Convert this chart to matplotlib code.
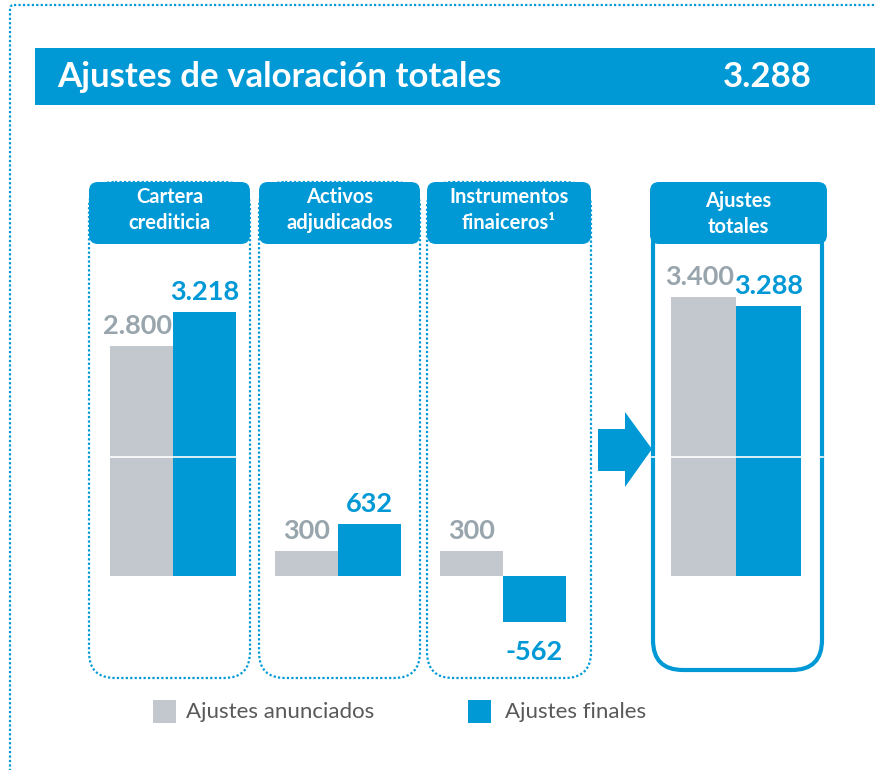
"""
Ajustes de valoración: anunciados vs finales, por tipo de activo.
"""
import matplotlib
matplotlib.use("Agg")
import matplotlib.pyplot as plt
from matplotlib.patches import FancyBboxPatch, Rectangle, Polygon

plt.rcParams['font.family'] = ['Lato', 'DejaVu Sans']

# data
panels = ['Cartera\ncrediticia', 'Activos\nadjudicados', 'Instrumentos\nfinaiceros¹', 'Ajustes\ntotales']
anunciados = [2800, 300, 300, 3400]
finales = [3218, 632, -562, 3288]
series_names = ['Ajustes anunciados', 'Ajustes finales']
title = 'Ajustes de valoración totales'

BLUE = '#0099D6'
GRAY_BAR = '#C3C8CF'
GRAY_TXT = '#98A5AD'
LEG_TXT = '#595959'

W, H = 875, 770
SCALE = 0.0821      # px per unit
BASE_Y = 576        # baseline, px from top
BREAK_Y = 457       # white break line, px from top


def fmt(v):
    return f"{v:,}".replace(',', '.')


def px_axes(fig, x0, x1, y0, y1):
    return fig.add_axes([x0 / W, 1 - y1 / H, (x1 - x0) / W, (y1 - y0) / H])


fig = plt.figure(figsize=(W / 100, H / 100), dpi=100)
bg = fig.add_axes([0, 0, 1, 1])
bg.set_xlim(0, W)
bg.set_ylim(H, 0)
bg.axis('off')

# outer dotted frame
bg.add_patch(FancyBboxPatch((10, 5), 900, 800, boxstyle="round,pad=0,rounding_size=4",
                            fill=False, ec=BLUE, lw=1.6, ls=(0, (1, 1))))

# title bar
bg.add_patch(Rectangle((35, 48), 845, 57, color=BLUE, lw=0))
bg.text(57, 77, title, color='white', fontsize=25, fontweight='bold', va='center', ha='left')
bg.text(812, 77, fmt(finales[-1]), color='white', fontsize=25, fontweight='bold',
        va='center', ha='right')

# panel frames (px)
frames = [(89, 250), (259, 420), (427, 591), (653, 822)]
headers = [(89, 250), (259, 420), (427, 591), (650, 827)]
bar_spans = [(110, 236), (275, 401), (440, 566), (671, 801)]

for i, ((fx0, fx1), (hx0, hx1)) in enumerate(zip(frames, headers)):
    if i < 3:
        bg.add_patch(FancyBboxPatch((fx0, 182), fx1 - fx0, 678 - 182,
                                    boxstyle="round,pad=0,rounding_size=26",
                                    fill=False, ec=BLUE, lw=1.6, ls=(0, (1, 1))))
        ty = 210
    else:
        bg.add_patch(FancyBboxPatch((fx0, 215), fx1 - fx0, 670 - 215,
                                    boxstyle="round,pad=0,rounding_size=30",
                                    fill=False, ec=BLUE, lw=3))
        ty = 214
    bg.add_patch(FancyBboxPatch((hx0, 182), hx1 - hx0, 62,
                                boxstyle="round,pad=0,rounding_size=9",
                                fc=BLUE, ec='none'))
    bg.text((hx0 + hx1) / 2, ty, panels[i], color='white', fontsize=14.5,
            fontweight='bold', ha='center', va='center', linespacing=1.32)

# arrow between panels
bg.add_patch(Polygon([(598, 429), (625, 429), (625, 412), (652, 449),
                      (625, 487), (625, 471), (598, 471)], closed=True,
                     fc=BLUE, ec='none'))

# bars
top_px, bot_px = 170, 700
for i, (bx0, bx1) in enumerate(bar_spans):
    ax = px_axes(fig, bx0, bx1, top_px, bot_px)
    ax.set_xlim(-0.5, 1.5)
    ax.set_ylim(-(bot_px - BASE_Y) / SCALE, (BASE_Y - top_px) / SCALE)
    ax.axis('off')
    ax.patch.set_alpha(0)
    vals = [anunciados[i], finales[i]]
    ax.bar([0, 1], vals, width=1.0, color=[GRAY_BAR, BLUE], lw=0)
    for x, v, c in zip([0, 1], vals, [GRAY_TXT, BLUE]):
        off = 20 if v >= 0 else -30
        dx = -3 if c == GRAY_TXT and v > 1000 else 0
        ax.annotate(fmt(v), (x, v), xytext=(dx, off * 0.72), textcoords='offset points',
                    ha='center', va='center', color=c, fontsize=19.5, fontweight='bold')
    if min(vals) > 1500:
        brk = (BASE_Y - BREAK_Y) / SCALE
        if i == 3:
            ax.plot([-0.79, 1.84], [brk, brk], color='white', lw=1.2, clip_on=False)
        else:
            ax.plot([-0.5, 1.5], [brk, brk], color='white', lw=1.2, clip_on=False)

# legend
for (sx, tx), c, name in zip([(153, 186), (468, 505)], [GRAY_BAR, BLUE], series_names):
    bg.add_patch(Rectangle((sx, 700), 23, 23, color=c, lw=0))
    bg.text(tx, 712, name, color=LEG_TXT, fontsize=16, ha='left', va='center')

fig.savefig('out.png', dpi=100)
